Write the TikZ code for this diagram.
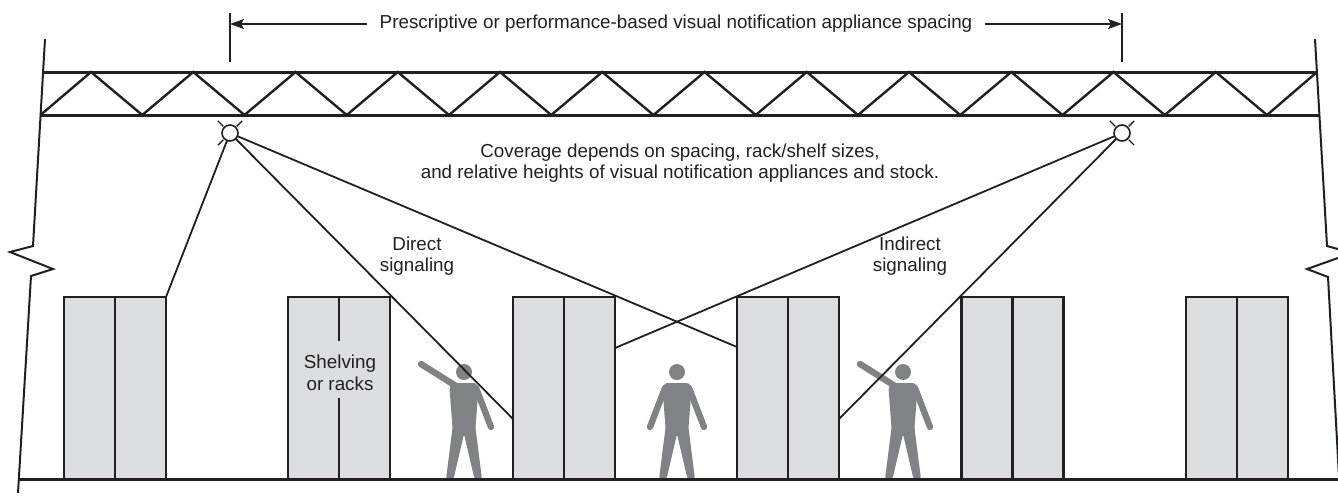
\documentclass[tikz,border=0pt]{standalone}
\usepackage{fontspec}
\setmainfont{Liberation Sans}
\usetikzlibrary{arrows.meta}
\definecolor{ink}{HTML}{231F20}
\definecolor{rackgray}{HTML}{DCDDDE}
\definecolor{persongray}{HTML}{808285}
\tikzset{
  persontorso/.style={fill=persongray, rounded corners=1.2pt},
  personarm/.style={draw=persongray, line width=3.2pt, line cap=round},
  personbody/.pic={
    \fill[persongray] (0,0) circle[radius=8];
    \path[persontorso] (-12,11) -- (12,11) -- (14.5,16) -- (11.5,56) -- (18,107) -- (10.5,107)
      -- (0,62) -- (-10.5,107) -- (-18,107) -- (-11.5,56) -- (-14.5,16) -- cycle;
    \draw[personarm] (12,16) -- (27,55);
  },
  % standing figure, origin at the head centre
  standing/.pic={
    \pic {personbody};
    \draw[personarm] (-12,16) -- (-27,55);
  },
  % figure with one arm raised, origin at the head centre
  waving/.pic={
    \pic {personbody};
    \draw[personarm] (-8,14) -- (-43,-8);
  },
}
\begin{document}
\begin{tikzpicture}[x=0.5pt,y=-0.5pt,
  font=\fontsize{9.4}{10.8}\selectfont,
  wall/.style={draw=ink, line width=1pt},
  chord/.style={draw=ink, line width=1.5pt},
  web/.style={draw=ink, line width=1.2pt},
  floorline/.style={draw=ink, line width=1.5pt},
  rack/.style={rectangle, draw=ink, fill=rackgray, line width=1.2pt,
    minimum width=51pt, minimum height=91pt, inner sep=0pt, outer sep=0pt},
  divider/.style={draw=ink, line width=1.1pt},
  signal/.style={draw=ink, line width=0.9pt},
  appliance/.style={circle, draw=ink, fill=white, line width=0.8pt,
    minimum size=8pt, inner sep=0pt, outer sep=0pt},
  tick/.style={draw=ink, line width=0.7pt},
  dim/.style={draw=ink, line width=0.6pt},
  dimarrow/.style={dim, -{Stealth[length=7pt,width=5pt,inset=1.5pt]}},
  label/.style={align=center, text=ink, inner sep=0pt},
]
\useasboundingbox (0,0) rectangle (1338,495);
\clip (0,0) rectangle (1338,495);

% walls with break marks
\draw[wall] (45,39) -- (33,246) -- (10,252) -- (53,269) -- (31,276) -- (18,493);
\draw[wall] (1315,39) -- (1327,246) -- (1352,253) -- (1307,269) -- (1328,277) -- (1340,495);

% roof truss
\draw[chord] (42.5,72) -- (1317,72);
\draw[chord] (40.5,115) -- (1320,115);
\draw[web] (40.5,115) \foreach \k in {0,...,11} { -- ({91+102.25*\k},72) -- ({142.25+102.25*\k},115) } -- (1317,72);

% spacing dimension
\coordinate (tickL) at (230,24);
\coordinate (tickR) at (1122,24);
\draw[dim] (230,13) -- (230,62);
\draw[dim] (1122,13) -- (1122,62);
\node[label, inner xsep=6pt] (title) at (676,24)
  {Prescriptive or performance-based visual notification appliance spacing};
\draw[dimarrow] (title.west) -- (tickL);
\draw[dimarrow] (title.east) -- (tickR);

% shelving
\foreach \n/\x in {1/115,2/339,3/564,4/788,5/1012.5,6/1237} {
  \node[rack] (r\n) at (\x,388) {};
}
\foreach \n in {1,3,4,5,6} { \draw[divider] (r\n.north) -- (r\n.south); }
\draw[divider] (r2.north) -- (339,341);
\draw[divider] (339,398) -- (r2.south);
\node[label] (shelf) at (340,373) {Shelving\\or racks};

% occupants
\pic (p1) at (464,372) {waving};
\pic (p2) at (677,372) {standing};
\pic (p3) at (903,372) {waving};

% visual notification appliances
\node[appliance] (a1) at (230,133) {};
\node[appliance] (a2) at (1122,133) {};
\foreach \a in {a1,a2} {
  \foreach \ang in {45,135,225,315} {
    \draw[tick] ([shift={(\ang:9.5)}]\a.center) -- ([shift={(\ang:17)}]\a.center);
  }
}

% sight lines
\coordinate (hitA) at (513,419);
\coordinate (hitB) at (737,347);
\coordinate (hitC) at (615,348);
\coordinate (hitD) at (839,419);
\draw[signal] (a1) -- (r1.north east);
\draw[signal] (a1) -- (hitA);
\draw[signal] (a1) -- (hitB);
\draw[signal] (a2) -- (hitC);
\draw[signal] (a2) -- (hitD);

% labels
\node[label] (cover) at (680,163)
  {Coverage depends on spacing, rack/shelf sizes,\\and relative heights of visual notification appliances and stock.};
\node[label] (direct) at (417,256) {Direct\\signaling};
\node[label] (indirect) at (910,256) {Indirect\\signaling};

% floor
\draw[floorline] (18,479) -- (1345,479);
\end{tikzpicture}
\end{document}
